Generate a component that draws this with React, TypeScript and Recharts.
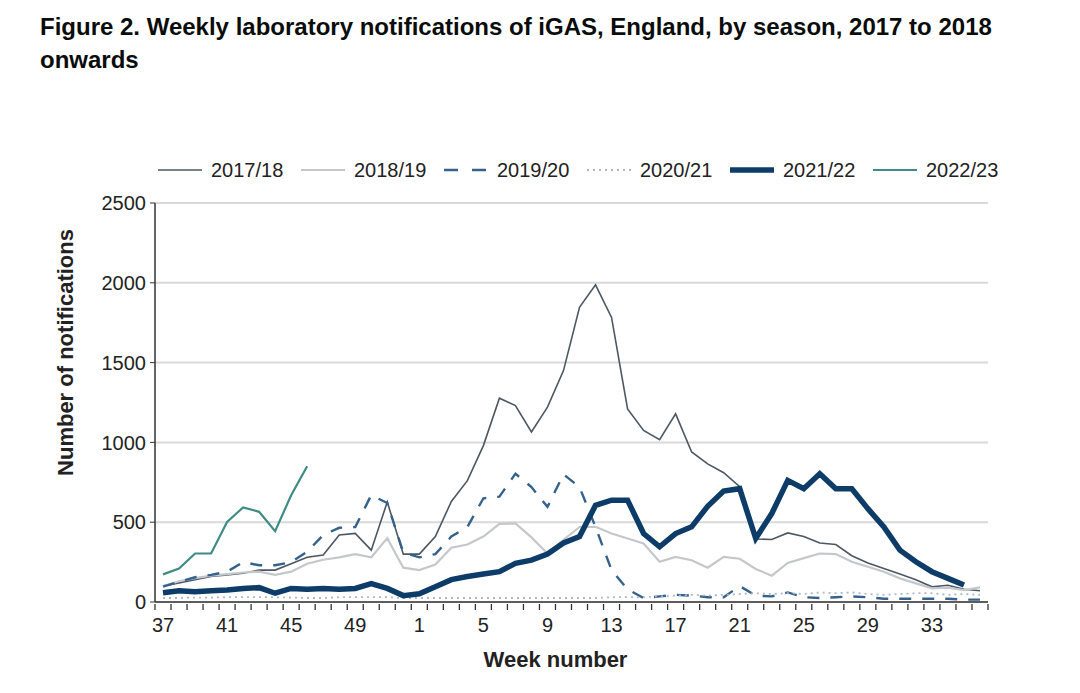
import { LineChart, Line, XAxis, YAxis, CartesianGrid } from 'recharts'

const weeks = [
  '37', '38', '39', '40', '41', '42', '43', '44', '45', '46', '47', '48', '49', '50', '51', '52',
  '1', '2', '3', '4', '5', '6', '7', '8', '9', '10', '11', '12', '13', '14', '15', '16', '17', '18',
  '19', '20', '21', '22', '23', '24', '25', '26', '27', '28', '29', '30', '31', '32', '33', '34', '35', '36',
]

const yTicks = [0, 500, 1000, 1500, 2000, 2500]

const s1718 = [
  100, 120, 140, 160, 170, 180, 200, 200, 240, 280, 295, 420, 430, 325, 627, 300,
  300, 410, 630, 760, 980, 1277, 1231, 1065, 1221, 1450, 1846, 1987, 1783, 1210, 1075, 1017, 1179, 940,
  865, 810, 723, 395, 392, 433, 410, 370, 360, 290, 245, 210, 175, 140, 95, 105, 80, 70,
]
const s1819 = [
  100, 130, 150, 165, 175, 185, 190, 170, 190, 240, 265, 280, 300, 280, 400, 215,
  200, 235, 340, 360, 410, 490, 492, 405, 304, 390, 470, 471, 429, 398, 367, 252, 283, 262,
  215, 283, 271, 207, 165, 245, 275, 304, 300, 252, 221, 190, 148, 117, 86, 90, 75, 92,
]
const s1920 = [
  96, 127, 155, 170, 190, 250, 230, 230, 250, 315, 420, 465, 470, 670, 620, 310,
  280, 300, 410, 470, 650, 660, 804, 720, 596, 800, 720, 470, 200, 80, 25, 35, 45, 40,
  30, 30, 100, 40, 35, 60, 30, 25, 30, 35, 30, 20, 20, 20, 20, 20, 15, 15,
]
const s2021 = [
  25, 25, 28, 28, 30, 30, 30, 30, 28, 25, 25, 30, 30, 30, 30, 25,
  25, 25, 25, 25, 25, 25, 25, 25, 25, 25, 25, 25, 30, 30, 30, 35, 40, 45,
  40, 45, 50, 55, 50, 55, 50, 60, 55, 60, 50, 45, 50, 55, 55, 45, 50, 45,
]
const s2122 = [
  58, 70, 65, 70, 75, 85, 90, 55, 85, 80, 85, 80, 85, 115, 85, 40,
  52, 96, 140, 160, 175, 190, 242, 262, 300, 370, 410, 606, 638, 638, 429, 346, 429, 471,
  600, 695, 710, 398, 554, 762, 710, 804, 710, 710, 585, 471, 325, 252, 190, 148, 106, null,
]
const s2223 = [
  173, 210, 304, 304, 502, 592, 565, 444, 669, 850, null, null, null, null, null, null,
  null, null, null, null, null, null, null, null, null, null, null, null, null, null, null, null, null, null,
  null, null, null, null, null, null, null, null, null, null, null, null, null, null, null, null, null, null,
]

const seasons = [
  { key: 's1718', name: '2017/18', values: s1718, color: '#4b5864', width: 1.6, dash: undefined },
  { key: 's1819', name: '2018/19', values: s1819, color: '#c4c8cc', width: 2.2, dash: undefined },
  { key: 's1920', name: '2019/20', values: s1920, color: '#34628c', width: 2.4, dash: '12 11' },
  { key: 's2021', name: '2020/21', values: s2021, color: '#a9b9c9', width: 1.8, dash: '2 4' },
  { key: 's2122', name: '2021/22', values: s2122, color: '#0e3c68', width: 5.5, dash: undefined },
  { key: 's2223', name: '2022/23', values: s2223, color: '#3f8c86', width: 2.2, dash: undefined },
]

const data = weeks.map((week, i) => {
  const row: Record<string, string | number | null> = { week }
  seasons.forEach(s => {
    row[s.key] = s.values[i]
  })
  return row
})

const FONT = "'Liberation Sans', Arial, sans-serif"
const PLOT_LEFT = 155
const PLOT_RIGHT = 988
const BAND = (PLOT_RIGHT - PLOT_LEFT) / weeks.length

function WeekTick(props: any) {
  const { x, y, payload, index } = props
  return (
    <g>
      <line x1={x - BAND / 2} x2={x - BAND / 2} y1={y} y2={y + 6} stroke="#333" strokeWidth={1.3} />
      {index === weeks.length - 1 && (
        <line x1={x + BAND / 2} x2={x + BAND / 2} y1={y} y2={y + 6} stroke="#333" strokeWidth={1.3} />
      )}
      {index % 4 === 0 && (
        <text x={x} y={y + 28} textAnchor="middle" fontSize={20} fill="#222" fontFamily={FONT}>
          {payload.value}
        </text>
      )}
    </g>
  )
}

export default function App() {
  return (
    <div style={{ position: 'absolute', left: 0, top: 0, width: 1080, height: 693, background: '#fff' }}>
      <div
        style={{
          position: 'absolute',
          left: 40,
          top: 10,
          fontFamily: FONT,
          fontWeight: 700,
          fontSize: 24,
          lineHeight: '33px',
          color: '#0b0c0c',
          whiteSpace: 'nowrap',
        }}
      >
        Figure 2. Weekly laboratory notifications of iGAS, England, by season, 2017 to 2018
        <br />
        onwards
      </div>

      <div style={{ position: 'absolute', left: 157, top: 158, display: 'flex', fontFamily: FONT, fontSize: 20, color: '#222' }}>
        {seasons.map(s => (
          <div key={s.key} style={{ width: 143, display: 'flex', alignItems: 'center' }}>
            <svg width={46} height={24}>
              <line
                x1={1}
                x2={45}
                y1={12}
                y2={12}
                stroke={s.color}
                strokeWidth={s.width}
                strokeDasharray={s.dash ? (s.key === 's1920' ? '14 14' : s.dash) : undefined}
              />
            </svg>
            <span style={{ marginLeft: 8 }}>{s.name}</span>
          </div>
        ))}
      </div>

      <LineChart width={1080} height={693} data={data} margin={{ top: 203, right: 1080 - PLOT_RIGHT, bottom: 0, left: 0 }}>
        <CartesianGrid vertical={false} stroke="#d9d9d9" strokeWidth={2} />
        <XAxis
          dataKey="week"
          scale="band"
          interval={0}
          height={91}
          tickSize={0}
          tickLine={false}
          tick={<WeekTick />}
          axisLine={{ stroke: '#333', strokeWidth: 1.5 }}
          label={{ value: 'Week number', position: 'insideBottom', offset: 26, dx: -16, fontSize: 22, fontWeight: 700, fill: '#222', fontFamily: FONT }}
        />
        <YAxis
          domain={[0, 2500]}
          ticks={yTicks}
          width={PLOT_LEFT}
          tickSize={5}
          tickMargin={4}
          axisLine={{ stroke: '#333', strokeWidth: 1.5 }}
          tickLine={{ stroke: '#333' }}
          tick={{ fontSize: 20, fill: '#222', fontFamily: FONT }}
          label={{ value: 'Number of notifications', angle: -90, position: 'center', dx: -12, dy: -50, fontSize: 22, fontWeight: 700, fill: '#222', fontFamily: FONT }}
        />
        {seasons.map(s => (
          <Line
            key={s.key}
            type="linear"
            dataKey={s.key}
            name={s.name}
            stroke={s.color}
            strokeWidth={s.width}
            strokeDasharray={s.dash}
            dot={false}
            activeDot={false}
            isAnimationActive={false}
            connectNulls={false}
          />
        ))}
      </LineChart>
    </div>
  )
}
